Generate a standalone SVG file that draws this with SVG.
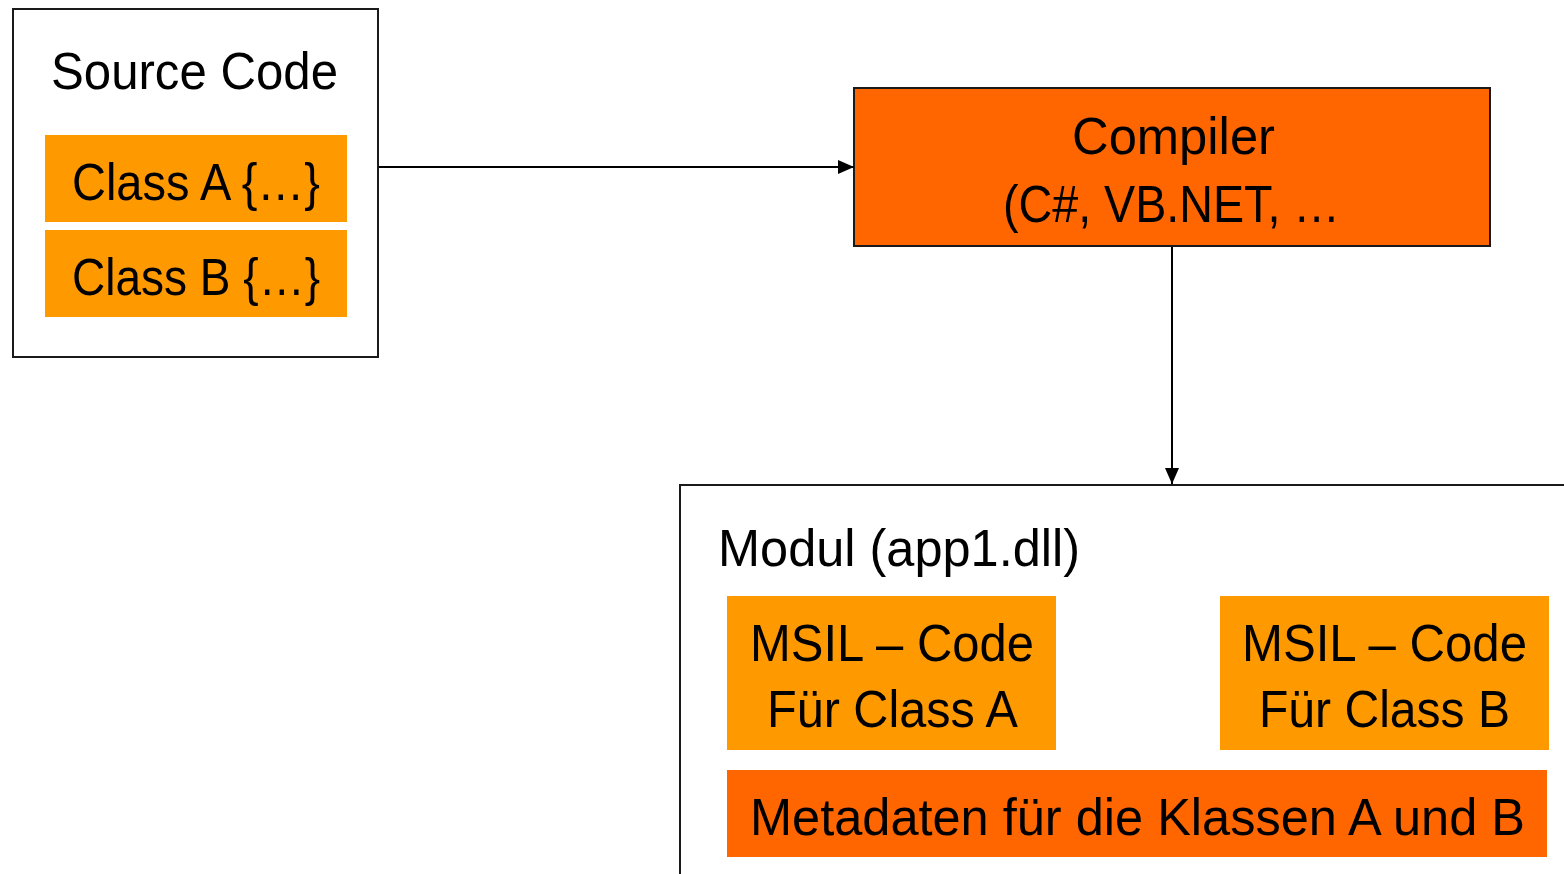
<svg xmlns="http://www.w3.org/2000/svg" width="1564" height="874" viewBox="0 0 1564 874">
  <style>
    .frame { fill: #ffffff; stroke: #1a1a1a; stroke-width: 2; }
    .light { fill: #ff9900; }
    .dark { fill: #ff6600; }
    .dark-box { fill: #ff6600; stroke: #1a1a1a; stroke-width: 2; }
    .label { font-family: "Liberation Sans", Arial, sans-serif; font-size: 52px; fill: #000000; }
    .mid { text-anchor: middle; }
    .wire { fill: none; stroke: #000000; stroke-width: 2; }
  </style>
  <defs>
    <marker id="arrow" viewBox="0 0 16 14" refX="16" refY="7" markerWidth="16" markerHeight="14" markerUnits="userSpaceOnUse" orient="auto">
      <path d="M0,0 L16,7 L0,14 Z" fill="#000000"/>
    </marker>
  </defs>

  <!-- Source code container with its two classes -->
  <g id="source-code">
    <rect class="frame" x="13" y="9" width="365" height="348"/>
    <text class="label" x="51" y="89" textLength="287" lengthAdjust="spacingAndGlyphs">Source Code</text>
    <rect class="light" x="45" y="135" width="302" height="87"/>
    <text class="label" x="72" y="200" textLength="248" lengthAdjust="spacingAndGlyphs">Class A {…}</text>
    <rect class="light" x="45" y="230" width="302" height="87"/>
    <text class="label" x="72" y="295" textLength="248" lengthAdjust="spacingAndGlyphs">Class B {…}</text>
  </g>

  <!-- Compiler -->
  <g id="compiler">
    <rect class="dark-box" x="854" y="88" width="636" height="158"/>
    <text class="label" x="1072" y="154" textLength="203" lengthAdjust="spacingAndGlyphs">Compiler</text>
    <text class="label" x="1003" y="222" textLength="337" lengthAdjust="spacingAndGlyphs">(C#, VB.NET, …</text>
  </g>

  <!-- Output module -->
  <g id="module">
    <rect class="frame" x="680" y="485" width="900" height="420"/>
    <text class="label" x="718" y="566" textLength="362" lengthAdjust="spacingAndGlyphs">Modul (app1.dll)</text>
    <g id="msil-a">
      <rect class="light" x="727" y="596" width="329" height="154"/>
      <text class="label" x="750" y="661" textLength="284" lengthAdjust="spacingAndGlyphs">MSIL – Code</text>
      <text class="label" x="767" y="727" textLength="251" lengthAdjust="spacingAndGlyphs">Für Class A</text>
    </g>
    <g id="msil-b">
      <rect class="light" x="1220" y="596" width="329" height="154"/>
      <text class="label" x="1242" y="661" textLength="285" lengthAdjust="spacingAndGlyphs">MSIL – Code</text>
      <text class="label" x="1259" y="727" textLength="251" lengthAdjust="spacingAndGlyphs">Für Class B</text>
    </g>
    <g id="metadata">
      <rect class="dark" x="727" y="770" width="820" height="87"/>
      <text class="label" x="750" y="835" textLength="775" lengthAdjust="spacingAndGlyphs">Metadaten für die Klassen A und B</text>
    </g>
  </g>

  <!-- Connectors -->
  <g id="connectors">
    <line class="wire" x1="379" y1="167" x2="854" y2="167" marker-end="url(#arrow)"/>
    <line class="wire" x1="1172" y1="247" x2="1172" y2="484" marker-end="url(#arrow)"/>
  </g>
</svg>
